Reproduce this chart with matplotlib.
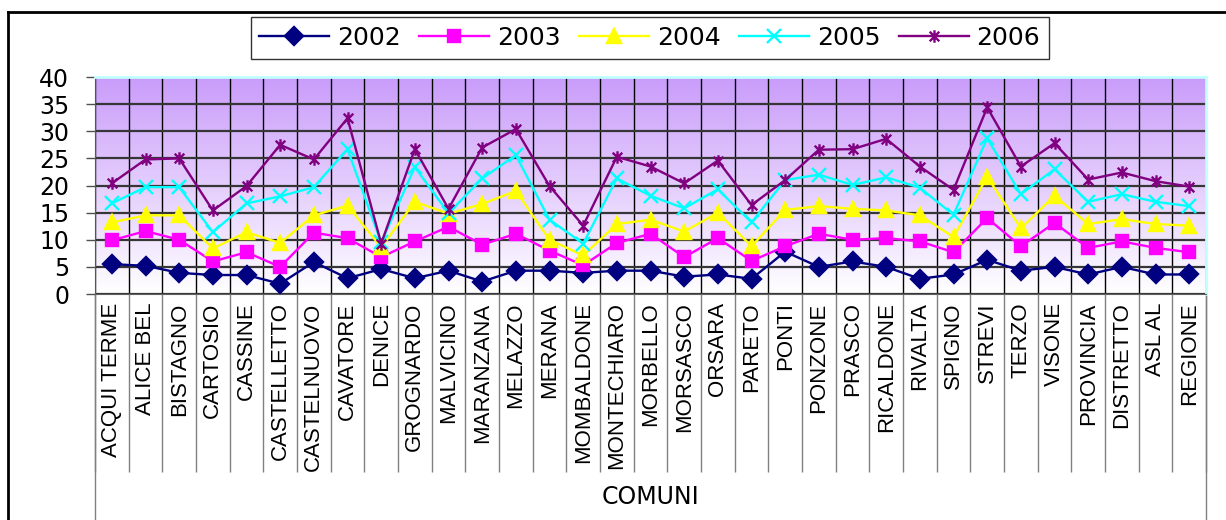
import matplotlib
matplotlib.use("Agg")
import matplotlib.pyplot as plt
import numpy as np
from matplotlib.colors import LinearSegmentedColormap
from matplotlib.path import Path
from matplotlib.lines import Line2D
import matplotlib.transforms as mtransforms

comuni = ["ACQUI TERME", "ALICE BEL", "BISTAGNO", "CARTOSIO", "CASSINE",
          "CASTELLETTO", "CASTELNUOVO", "CAVATORE", "DENICE", "GROGNARDO",
          "MALVICINO", "MARANZANA", "MELAZZO", "MERANA", "MOMBALDONE",
          "MONTECHIARO", "MORBELLO", "MORSASCO", "ORSARA", "PARETO", "PONTI",
          "PONZONE", "PRASCO", "RICALDONE", "RIVALTA", "SPIGNO", "STREVI",
          "TERZO", "VISONE", "PROVINCIA", "DISTRETTO", "ASL AL", "REGIONE"]

v2002 = [5.5, 5.2, 3.9, 3.5, 3.5, 1.9, 5.9, 2.9, 4.6, 2.9, 4.3, 2.3, 4.3, 4.3,
         3.9, 4.3, 4.3, 3.2, 3.6, 2.8, 7.8, 5.0, 6.0, 5.0, 2.8, 3.6, 6.3, 4.3,
         5.0, 3.6, 5.0, 3.6, 3.6]
v2003 = [9.9, 11.6, 10.0, 6.0, 7.7, 5.0, 11.3, 10.3, 6.8, 9.7, 12.4, 9.1, 11.1,
         8.0, 5.3, 9.4, 11.1, 6.8, 10.3, 6.1, 8.8, 11.1, 10.0, 10.3, 9.7, 7.7,
         14.0, 8.8, 13.1, 8.5, 9.7, 8.5, 7.7]
v2004 = [13.2, 14.5, 14.5, 8.4, 11.4, 9.4, 14.5, 16.3, 8.6, 17.0, 14.8, 16.6,
         19.0, 10.0, 7.1, 12.9, 13.7, 11.5, 15.0, 8.8, 15.5, 16.2, 15.7, 15.4,
         14.5, 10.5, 21.6, 12.1, 18.1, 12.9, 13.8, 12.9, 12.6]
v2005 = [16.7, 19.7, 19.7, 11.4, 16.7, 18.0, 19.7, 26.7, 9.5, 23.4, 14.9, 21.3,
         25.6, 13.7, 9.3, 21.3, 18.1, 15.8, 19.3, 13.2, 21.0, 22.0, 20.1, 21.5,
         19.6, 14.6, 28.7, 18.4, 23.0, 17.0, 18.4, 17.0, 16.2]
v2006 = [20.4, 24.8, 25.0, 15.4, 19.9, 27.5, 24.8, 32.4, 9.3, 26.7, 15.7, 27.0,
         30.4, 19.9, 12.6, 25.3, 23.5, 20.4, 24.6, 16.4, 21.0, 26.6, 26.7, 28.6,
         23.5, 19.2, 34.4, 23.5, 27.8, 21.1, 22.4, 20.8, 19.8]

anni = ["2002", "2003", "2004", "2005", "2006"]
serie = [v2002, v2003, v2004, v2005, v2006]

# excel style star: x with a vertical bar
star = Path([(-1, -1), (1, 1), (-1, 1), (1, -1), (0, -1.3), (0, 1.3)],
            [Path.MOVETO, Path.LINETO, Path.MOVETO, Path.LINETO, Path.MOVETO, Path.LINETO])
stili = [("#000080", "D", 9), ("#FF00FF", "s", 9), ("#FFFF00", "^", 10.5),
         ("#00FFFF", "x", 10), ("#800080", star, 9)]

fig = plt.figure(figsize=(12.26, 5.2), dpi=100)
ax = fig.add_axes([0.0775, 0.4346, 0.9062, 0.4173])

n = len(comuni)
x = np.arange(n)

# purple -> white background gradient
cmap = LinearSegmentedColormap.from_list("bg", ["#FFFFFF", "#C99CFA"])
grad = np.linspace(0, 1, 256).reshape(-1, 1)
ax.imshow(grad, extent=[-0.5, n - 0.5, 0, 40], origin="lower", aspect="auto",
          cmap=cmap, zorder=0)

for anno, vals, (col, mk, ms) in zip(anni, serie, stili):
    ax.plot(x, vals, color=col, lw=1.7, marker=mk, markersize=ms,
            markeredgewidth=1.7, label=anno, zorder=3)

ax.set_xlim(-0.5, n - 0.5)
ax.set_ylim(0, 40)
ax.set_yticks(np.arange(0, 41, 5))
ax.yaxis.grid(True, color="#363636", lw=1.6)
ax.set_xticks(x)
ax.set_xticks(np.arange(n + 1) - 0.5, minor=True)
ax.xaxis.grid(True, which="minor", color="black", lw=1)
ax.set_xticklabels(comuni, rotation=90, va="top", ha="center",
                   fontsize=16, family="Liberation Sans")
ax.tick_params(axis="x", which="major", length=0, pad=6)
ax.tick_params(axis="x", which="minor", length=128, color="#808080", width=1)
ax.tick_params(axis="y", length=6.5, width=1, color="#505050", pad=12,
               labelsize=17)
for lab in ax.get_yticklabels():
    lab.set_family("DejaVu Sans")

for s in ["top", "right"]:
    ax.spines[s].set_color("#BFFFFF")
    ax.spines[s].set_linewidth(2)
ax.spines["left"].set_color("#3F6060")
ax.spines["bottom"].set_color("#606060")

# outer separators of the category box
trans = mtransforms.blended_transform_factory(ax.transData, ax.transAxes)
for xb in [-0.5, n - 0.5]:
    ax.plot([xb, xb], [0, -1.05], transform=trans, color="#808080", lw=1,
            clip_on=False)

ax.text(0.5, -0.935, "COMUNI", transform=ax.transAxes, ha="center",
        va="center", fontsize=17, family="DejaVu Sans")

leg = fig.legend(loc="center", bbox_to_anchor=(0.53, 0.927), ncol=5,
                 prop={"family": "DejaVu Sans", "size": 18}, fancybox=False,
                 edgecolor="black", handlelength=2.8, handletextpad=0.3,
                 columnspacing=0.75, borderpad=0.35, borderaxespad=0)
leg.get_frame().set_linewidth(1)

# chart frame
fig.add_artist(Line2D([8 / 1226, 8 / 1226], [0, 1 - 12 / 520], color="black", lw=2))
fig.add_artist(Line2D([8 / 1226, 1], [1 - 12 / 520, 1 - 12 / 520], color="black", lw=2))

fig.savefig("out.png", dpi=100)
